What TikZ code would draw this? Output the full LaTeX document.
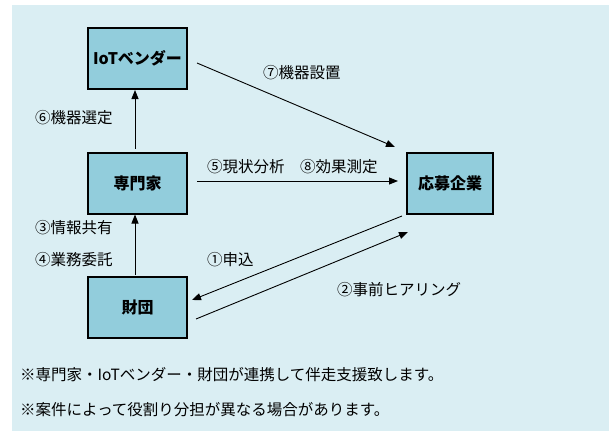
\documentclass[tikz,border=0pt]{standalone}
\usepackage{fontspec}
\setmainfont{Noto Sans CJK JP}
\usetikzlibrary{arrows.meta}
\definecolor{bgblue}{HTML}{DAEEF3}
\definecolor{boxblue}{HTML}{92CDDC}
\begin{document}
\begin{tikzpicture}[x=1pt,y=-1pt,
  box/.style={draw=black,line width=2pt,fill=boxblue,minimum width=99pt,minimum height=61pt,inner sep=0pt,font=\fontsize{16pt}{18pt}\selectfont\bfseries},
  lbl/.style={anchor=west,inner sep=0pt,font=\fontsize{15.5pt}{18pt}\selectfont},
  arr/.style={line width=0.9pt,-{Triangle[length=9pt,width=7pt]}}]
\useasboundingbox (0,0) rectangle (609,431);
\fill[bgblue] (12,5) rectangle (609,431);
\node[box] (iot) at (137.5,58.5) {IoTベンダー};
\node[box] (sen) at (137.5,183) {専門家};
\node[box] (zai) at (137.5,307) {財団};
\node[box,minimum width=86pt] (ent) at (450,183.5) {応募企業};
\draw[arr] ([shift={(-2.5,-3)}]sen.north) -- ([xshift=-2.5]iot.south);
\draw[arr] ([shift={(-2.5,-1)}]zai.north) -- ([xshift=-2.5]sen.south);
\draw[arr] ([shift={(9,4.5)}]iot.east) -- ([shift={(-11,-5)}]ent.north west);
\draw[arr] ([shift={(9,-2)}]sen.east) -- ([shift={(-8,-2.5)}]ent.west);
\draw[arr] ([shift={(-4,1)}]ent.south west) -- ([shift={(4,-7)}]zai.east);
\draw[arr] ([shift={(8,12)}]zai.east) -- ([shift={(2,17)}]ent.south west);
\node[lbl] (l7) at (263,73) {⑦機器設置};
\node[lbl] (l6) at (35,118) {⑥機器選定};
\node[lbl] (l58) at (207,167) {⑤現状分析　⑧効果測定};
\node[lbl] (l3) at (35,228) {③情報共有};
\node[lbl] (l4) at (35,260) {④業務委託};
\node[lbl] (l1) at (207,260) {①申込};
\node[lbl] (l2) at (337,290) {②事前ヒアリング};
\node[lbl] (n1) at (20,375) {※専門家・IoTベンダー・財団が連携して伴走支援致します。};
\node[lbl] (n2) at (20,410) {※案件によって役割り分担が異なる場合があります。};
\end{tikzpicture}
\end{document}
